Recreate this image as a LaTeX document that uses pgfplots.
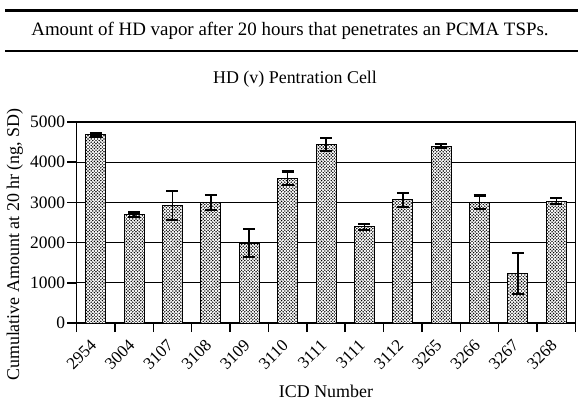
\documentclass[border=0pt]{standalone}
\usepackage{fontspec}
\setmainfont{Liberation Serif}
\usepackage{pgfplots}
\pgfplotsset{compat=1.18}
\usetikzlibrary{patterns}
\pgfdeclarepatternformonly{mydots}{\pgfqpoint{-1bp}{-1bp}}{\pgfqpoint{4bp}{4bp}}{\pgfqpoint{3.2bp}{3.2bp}}{%
  \pgfpathcircle{\pgfqpoint{0bp}{0bp}}{0.8bp}%
  \pgfpathcircle{\pgfqpoint{1.6bp}{1.6bp}}{0.8bp}%
  \pgfusepath{fill}}
\pgfplotstableread{
x y e
0 4680 40
1 2690 60
2 2920 360
3 3000 180
4 1990 350
5 3600 170
6 4440 170
7 2390 80
8 3060 170
9 4400 50
10 3000 170
11 1230 510
12 3030 70
}\data
\begin{document}
\begin{tikzpicture}
\useasboundingbox (0,0) rectangle (578bp,403bp);
\draw[line width=2.5bp] (5bp,392.5bp) -- (578bp,392.5bp);
\node[font=\fontsize{19}{22}\selectfont] at (290bp,372bp) {Amount of HD vapor after 20 hours that penetrates an PCMA TSPs.};
\draw[line width=2.5bp] (5bp,352bp) -- (578bp,352bp);
\node[font=\fontsize{18}{22}\selectfont] at (295bp,324bp) {HD (v) Pentration Cell};
\begin{axis}[
  at={(76.5bp,80bp)}, anchor=south west,
  width=499bp, height=201bp, scale only axis,
  xmin=-0.5, xmax=12.5, ymin=0, ymax=5000,
  xtick={-0.5,0.5,...,12.5},
  x tick label as interval=true,
  xticklabels={2954,3004,3107,3108,3109,3110,3111,3111,3112,3265,3266,3267,3268},
  xticklabel style={rotate=45, anchor=north east, font=\fontsize{17}{20}\selectfont, xshift=-8bp, yshift=1bp, inner sep=1bp},
  ytick={0,1000,...,5000},
  yticklabel style={font=\fontsize{17.5}{20}\selectfont, xshift=1bp},
  /pgf/number format/assume math mode=true,
  /pgf/number format/1000 sep={},
  scaled y ticks=false,
  ymajorgrids=true,
  grid style={black, line width=1.2bp},
  axis line style={black, line width=1.2bp},
  tick style={black, line width=1.5bp},
  major tick length=9bp,
  xtick pos=bottom, ytick pos=left,
  tick align=outside,
  xlabel={ICD Number},
  ylabel={Cumulative Amount at 20 hr (ng, SD)},
  label style={font=\fontsize{18}{22}\selectfont},
  xlabel style={at={(axis description cs:0.5,0)}, yshift=-61bp, anchor=north, inner sep=1bp},
  ylabel style={at={(axis description cs:-0.10,0.39)}, anchor=south},
]
\addplot[ybar, bar width=20bp, draw=black, line width=1bp, fill=white,
  postaction={pattern=mydots, pattern color=black},
  error bars/.cd, y dir=both, y explicit,
  error bar style={black, line width=1.6bp},
  error mark options={rotate=90, mark size=6bp, line width=2.2bp, black}]
  table[x=x, y=y, y error=e] {\data};
\end{axis}
\end{tikzpicture}
\end{document}
